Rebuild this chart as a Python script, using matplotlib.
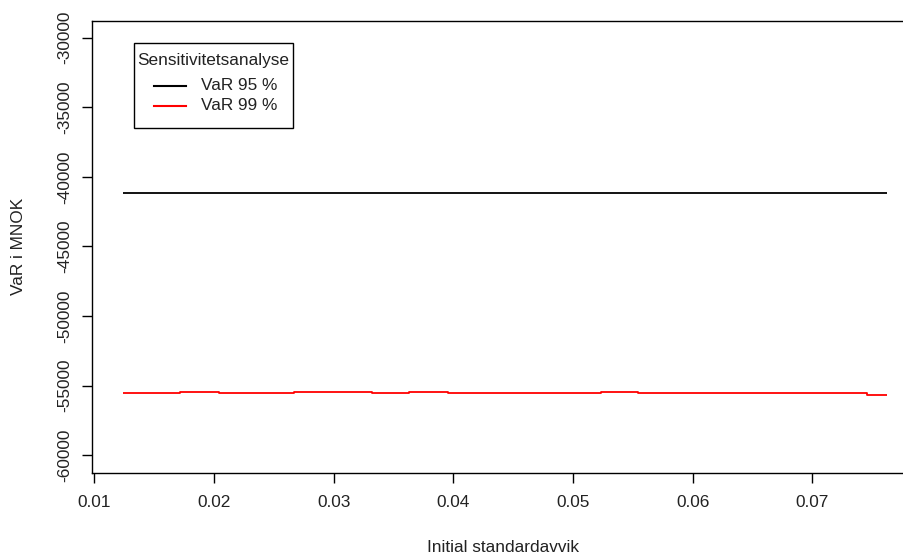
import numpy as np
import matplotlib
matplotlib.use("Agg")
import matplotlib.pyplot as plt
from matplotlib.patches import Rectangle
from matplotlib.lines import Line2D

plt.rcParams['font.family'] = ['Liberation Sans', 'DejaVu Sans']

# Sensitivity of VaR to the initial standard deviation (step levels)
sigma_95 = [0.01237, 0.0762]
var_95 = [-41140, -41140]

sigma_99 = [0.01237, 0.01716, 0.02039, 0.02671, 0.03317, 0.03629,
            0.03952, 0.05231, 0.05542, 0.07455, 0.0762]
var_99 = [-55543, -55471, -55543, -55471, -55543, -55471,
          -55543, -55471, -55543, -55636, -55636]

x_ticks = [0.01, 0.02, 0.03, 0.04, 0.05, 0.06, 0.07]
y_ticks = [-60000, -55000, -50000, -45000, -40000, -35000, -30000]

series_labels = ['VaR 95 %', 'VaR 99 %']
series_colors = ['black', 'red']
legend_title = 'Sensitivitetsanalyse'

W, H = 904, 557
FS = 12.4
TXT = '#222222'
fig = plt.figure(figsize=(W / 100, H / 100), dpi=100)
left_px, right_px, top_px, bottom_px = 92.3, 930.0, 20.7, 472.7
ax = fig.add_axes([left_px / W, 1 - bottom_px / H,
                   (right_px - left_px) / W, (bottom_px - top_px) / H])

ax.plot(sigma_95, var_95, color=series_colors[0], lw=1.3,
        solid_capstyle='butt')
ax.step(sigma_99, var_99, where='post', color=series_colors[1], lw=1.3,
        solid_capstyle='butt')

ax.set_xlim(0.009833, 0.07982)
ax.set_ylim(-61251, -28778)
ax.set_xticks(x_ticks)
ax.set_xticklabels([f"{v:.2f}" for v in x_ticks])
ax.set_yticks(y_ticks)
ax.set_yticklabels([str(v) for v in y_ticks], rotation=90, va='center')

for s in ax.spines.values():
    s.set_linewidth(1.0)
    s.set_color('black')
ax.tick_params(axis='both', length=7.2, width=1.0, labelsize=FS,
               colors='black')
ax.tick_params(axis='x', pad=9)
ax.tick_params(axis='y', pad=7)
for lab in ax.get_xticklabels() + ax.get_yticklabels():
    lab.set_color(TXT)

fig.text(503 / W, 1 - 547 / H, "Initial standardavvik", ha='center',
         va='center', fontsize=FS, color=TXT)
fig.text(19 / W, 1 - 246.7 / H, "VaR i MNOK", ha='center', va='center',
         rotation=90, fontsize=FS, color=TXT)


def fx(px):
    return px / W


def fy(py):
    return 1 - py / H


# legend box drawn in figure coordinates
box_l, box_r, box_t, box_b = 134.0, 293.3, 43.3, 127.7
fig.patches.append(Rectangle((fx(box_l), fy(box_b)), fx(box_r - box_l),
                             (box_b - box_t) / H, transform=fig.transFigure,
                             facecolor='white', edgecolor='black', lw=1.0,
                             zorder=5))
fig.text(fx((box_l + box_r) / 2), fy(60), legend_title, ha='center',
         va='center', fontsize=FS, color=TXT, zorder=6)
for i, (lab, col) in enumerate(zip(series_labels, series_colors)):
    yy = 85.7 + i * 20.3
    fig.lines.append(Line2D([fx(154), fx(185.7)], [fy(yy), fy(yy)],
                            transform=fig.transFigure, color=col, lw=1.5,
                            zorder=6))
    fig.text(fx(200.7), fy(yy), lab, ha='left', va='center', fontsize=FS,
             color=TXT, zorder=6)

fig.savefig("out.png", dpi=100)
